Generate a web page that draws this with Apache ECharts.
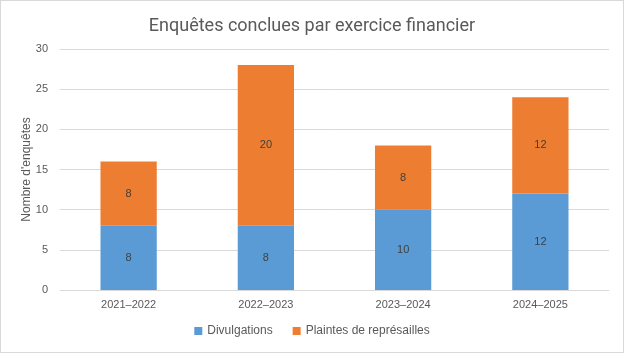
<!DOCTYPE html>
<html>
<head>
<meta charset="utf-8">
<script src="https://cdn.jsdelivr.net/npm/echarts@6/dist/echarts.min.js"></script>
<style>
  html, body { margin: 0; padding: 0; background: #fff; }
  #chart { width: 622px; height: 351px; border: 1px solid #d9d9d9; }
</style>
</head>
<body>
<div id="chart"></div>
<script>
var categories = ['2021–2022', '2022–2023', '2023–2024', '2024–2025'];
var divulgations = [8, 8, 10, 12];
var plaintes = [8, 20, 8, 12];

var font = 'Liberation Sans, Arial, sans-serif';

var chart = echarts.init(document.getElementById('chart'));
chart.setOption({
    animation: false,
    textStyle: { fontFamily: font },
    title: {
        text: 'Enquêtes conclues par exercice financier',
        left: 'center',
        top: 11,
        textStyle: { fontSize: 18, fontWeight: 'normal', color: '#595959', fontFamily: 'Roboto, sans-serif' }
    },
    legend: {
        bottom: 10,
        itemWidth: 8,
        itemHeight: 8,
        itemGap: 20,
        icon: 'rect',
        textStyle: { fontSize: 12, color: '#595959' },
        data: ['Divulgations', 'Plaintes de représailles']
    },
    grid: { left: 59, right: 14, top: 48, bottom: 62 },
    xAxis: {
        type: 'category',
        data: categories,
        axisTick: { show: false },
        axisLine: { lineStyle: { color: '#d9d9d9' } },
        axisLabel: { color: '#595959', fontSize: 11, margin: 9 }
    },
    yAxis: {
        type: 'value',
        min: 0,
        max: 30,
        interval: 5,
        name: "Nombre d'enquêtes",
        nameLocation: 'middle',
        nameGap: 27,
        nameMoveOverlap: false,
        nameTextStyle: { color: '#595959', fontSize: 12 },
        axisLabel: { color: '#595959', fontSize: 11, margin: 12 },
        splitLine: { lineStyle: { color: '#d9d9d9' } }
    },
    series: [
        {
            name: 'Divulgations',
            type: 'bar',
            stack: 'total',
            barWidth: '41%',
            data: divulgations,
            itemStyle: { color: '#5B9BD5' },
            label: { show: true, position: 'inside', color: '#404040', fontSize: 11 }
        },
        {
            name: 'Plaintes de représailles',
            type: 'bar',
            stack: 'total',
            data: plaintes,
            itemStyle: { color: '#ED7D31' },
            label: { show: true, position: 'inside', color: '#404040', fontSize: 11 }
        }
    ]
});
</script>
</body>
</html>
